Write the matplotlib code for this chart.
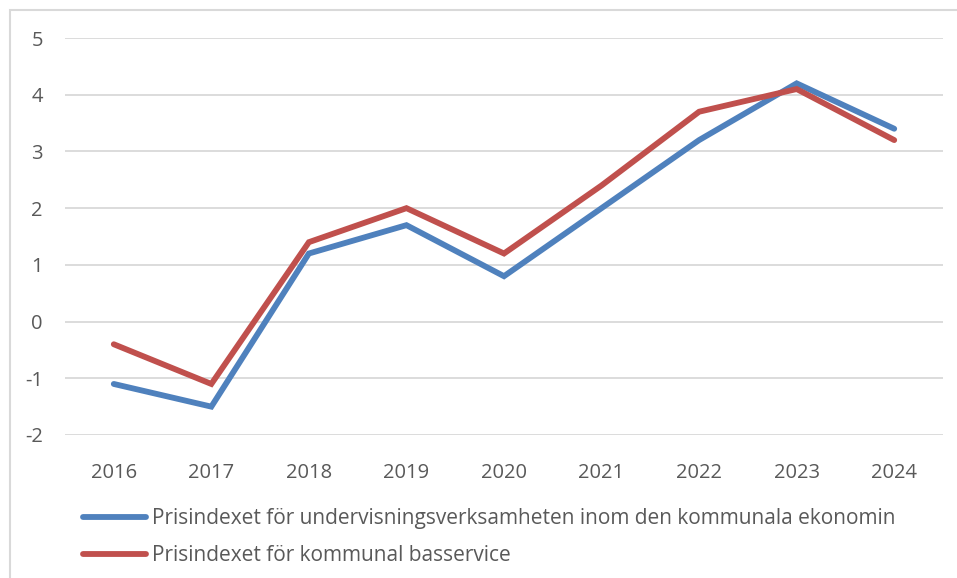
import matplotlib.pyplot as plt
from matplotlib.patches import Rectangle

years = ['2016', '2017', '2018', '2019', '2020', '2021', '2022', '2023', '2024']
undervisning = [-1.1, -1.5, 1.2, 1.7, 0.8, 2.0, 3.2, 4.2, 3.4]
basservice = [-0.4, -1.1, 1.4, 2.0, 1.2, 2.4, 3.7, 4.1, 3.2]
labels = ['Prisindexet för undervisningsverksamheten inom den kommunala ekonomin',
          'Prisindexet för kommunal basservice']
yticks = [-2, -1, 0, 1, 2, 3, 4, 5]

plt.rcParams['font.family'] = ['Open Sans', 'DejaVu Sans']
text_color = '#595959'
grid_color = '#d9d9d9'

W, H = 957, 578
fig = plt.figure(figsize=(W / 100, H / 100), dpi=100)

# outer chart border (runs off the right and bottom edge)
fig.patches.append(Rectangle((10 / W, -0.1), 1.2, 1 - 10 / H + 0.1,
                             transform=fig.transFigure, fill=False,
                             edgecolor=grid_color, linewidth=1.5))

ax = fig.add_axes([65 / W, 1 - 435 / H, (943 - 65) / W, (435 - 38) / H])
x = range(len(years))
ax.plot(x, undervisning, color='#4f81bd', linewidth=4.2,
        solid_capstyle='round', solid_joinstyle='miter', label=labels[0])
ax.plot(x, basservice, color='#c0504d', linewidth=4.2,
        solid_capstyle='round', solid_joinstyle='miter', label=labels[1])

ax.set_xlim(-0.5, len(years) - 0.5)
ax.set_ylim(-2, 5)
ax.set_xticks(list(x))
ax.set_xticklabels(years)
ax.set_yticks(yticks)
ax.set_yticklabels([str(v) for v in yticks])
ax.tick_params(axis='both', length=0, labelsize=14.5, colors=text_color)
ax.tick_params(axis='y', pad=16)
ax.tick_params(axis='x', pad=20)
ax.grid(axis='y', color=grid_color, linewidth=1.3)
ax.set_axisbelow(True)
for s in ax.spines.values():
    s.set_visible(False)

leg = fig.legend(loc='upper left', bbox_to_anchor=(83 / W, 1 - 508 / H),
                 frameon=False, fontsize=15, handlelength=3.0,
                 handletextpad=0.3, labelspacing=0.78, borderpad=0,
                 borderaxespad=0)
for t in leg.get_texts():
    t.set_color(text_color)

fig.savefig('out.png', dpi=100)
